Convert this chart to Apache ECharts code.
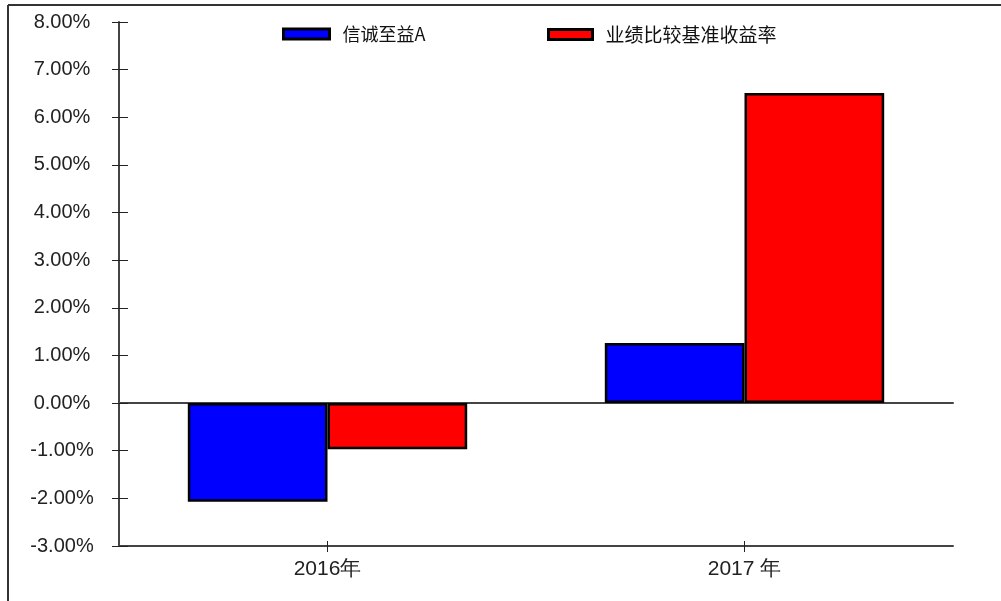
<!DOCTYPE html>
<html>
<head>
<meta charset="utf-8">
<script src="https://cdn.jsdelivr.net/npm/echarts@6/dist/echarts.min.js"></script>
<style>html,body{margin:0;padding:0;background:#fff;}#c{width:1001px;height:601px;}</style>
</head>
<body>
<div id="c"></div>
<script>
var categories = ['2016年', '2017 年'];
var fundName = '信诚至益A';
var benchName = '业绩比较基准收益率';
var fundValues = [-2.07, 1.26];
var benchValues = [-0.97, 6.51];
var yMin = -3, yMax = 8, yStep = 1;

var chart = echarts.init(document.getElementById('c'), null, {renderer: 'canvas'});
var axisColor = '#444';
var labelFont = 'Liberation Sans, Arial, sans-serif';
var cjkFont = '"Noto Sans CJK SC", "Liberation Sans", sans-serif';
var grid = {left: 119, right: 48, top: 22, bottom: 55};
function pct(v){ return v.toFixed(2) + '%'; }

chart.setOption({
  animation: false,
  backgroundColor: '#fff',
  graphic: [
    {type: 'line', shape: {x1: 8, y1: 5, x2: 1001, y2: 5}, style: {stroke: '#333', lineWidth: 2}},
    {type: 'line', shape: {x1: 8, y1: 5, x2: 8, y2: 601}, style: {stroke: '#333', lineWidth: 2}}
  ],
  legend: [
    {data: [fundName], left: 277, top: 20, icon: 'rect', itemWidth: 46, itemHeight: 10, itemGap: 10,
     itemStyle: {borderColor: '#000', borderWidth: 3},
     textStyle: {fontFamily: cjkFont, fontSize: 18, color: '#111', padding: [0, 0, 0, 8]}},
    {data: [benchName], left: 542, top: 20, icon: 'rect', itemWidth: 44, itemHeight: 10, itemGap: 10,
     itemStyle: {borderColor: '#000', borderWidth: 3},
     textStyle: {fontFamily: cjkFont, fontSize: 19, color: '#111', padding: [0, 0, 0, 8]}}
  ],
  grid: grid,
  xAxis: [
    {type: 'category', data: categories, position: 'bottom',
     axisLine: {onZero: false, lineStyle: {color: axisColor, width: 2}},
     axisTick: {show: true, alignWithLabel: true, length: 6, lineStyle: {color: '#222', width: 1}},
     axisLabel: {margin: 13, fontFamily: labelFont, fontSize: 21, color: '#222'},
     splitLine: {show: false}},
    {type: 'category', data: categories, position: 'bottom',
     axisLine: {show: true, onZero: true, lineStyle: {color: axisColor, width: 2}},
     axisTick: {show: false}, axisLabel: {show: false}, splitLine: {show: false}},
    {type: 'category', data: categories, position: 'bottom',
     axisLine: {show: false, onZero: false},
     axisTick: {show: true, inside: true, alignWithLabel: true, length: 5, lineStyle: {color: '#222', width: 1}},
     axisLabel: {show: false}, splitLine: {show: false}}
  ],
  yAxis: [
    {type: 'value', min: yMin, max: yMax, interval: yStep,
     axisLine: {show: true, lineStyle: {color: axisColor, width: 2}},
     axisTick: {show: true, length: 7, lineStyle: {color: '#222', width: 1}},
     axisLabel: {formatter: pct, align: 'center', margin: 57, fontFamily: labelFont, fontSize: 20, color: '#222'},
     splitLine: {show: false}},
    {type: 'value', min: yMin, max: yMax, interval: yStep, position: 'left',
     axisLine: {show: false},
     axisTick: {show: true, inside: true, length: 9, lineStyle: {color: '#222', width: 1}},
     axisLabel: {show: false}, splitLine: {show: false}}
  ],
  series: [
    {name: fundName, type: 'bar', data: fundValues, barGap: '0%', barCategoryGap: '33%',
     itemStyle: {color: '#0000ff', borderColor: '#000', borderWidth: 2.5}},
    {name: benchName, type: 'bar', data: benchValues, barGap: '0%', barCategoryGap: '33%',
     itemStyle: {color: '#ff0000', borderColor: '#000', borderWidth: 2.5}}
  ]
});
</script>
</body>
</html>
